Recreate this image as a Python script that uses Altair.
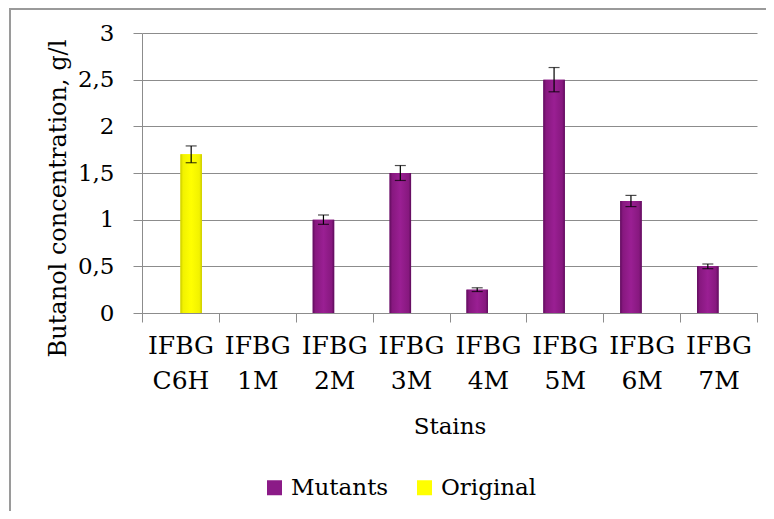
import altair as alt
import pandas as pd

# ---- data ----
categories = ["IFBG C6H", "IFBG 1M", "IFBG 2M", "IFBG 3M", "IFBG 4M", "IFBG 5M", "IFBG 6M", "IFBG 7M"]
series = ["Original", "Mutants", "Mutants", "Mutants", "Mutants", "Mutants", "Mutants", "Mutants"]
values = [1.7, 0.0, 1.0, 1.5, 0.25, 2.5, 1.2, 0.5]
errors = [0.09, 0.0, 0.05, 0.08, 0.02, 0.13, 0.06, 0.025]
y_ticks = [0, 0.5, 1, 1.5, 2, 2.5, 3]
legend_order = ["Mutants", "Original"]
legend_colors = ["#8b1a87", "#ffff00"]

df = pd.DataFrame({"category": categories, "series": series, "value": values, "err": errors})
df["lo"] = df["value"] - df["err"]
df["hi"] = df["value"] + df["err"]

FONT = "DejaVu Serif"
GRID = "#8c8c8c"

purple_grad = {
    "gradient": "linear", "x1": 0, "y1": 0, "x2": 1, "y2": 0,
    "stops": [
        {"offset": 0, "color": "#5e0c5b"},
        {"offset": 0.12, "color": "#87187f"},
        {"offset": 0.5, "color": "#9a1f93"},
        {"offset": 0.88, "color": "#87187f"},
        {"offset": 1, "color": "#5e0c5b"},
    ],
}
yellow_grad = {
    "gradient": "linear", "x1": 0, "y1": 0, "x2": 1, "y2": 0,
    "stops": [
        {"offset": 0, "color": "#c9c900"},
        {"offset": 0.12, "color": "#f2f200"},
        {"offset": 0.5, "color": "#ffff00"},
        {"offset": 0.88, "color": "#f2f200"},
        {"offset": 1, "color": "#c9c900"},
    ],
}

base = alt.Chart(df)

x_enc = alt.X(
    "category:N",
    scale=alt.Scale(domain=categories, paddingInner=0, paddingOuter=0),
    axis=alt.Axis(
        title="Stains",
        labelExpr="split(datum.label, ' ')",
        labelAngle=0,
        labelFont=FONT,
        labelFontSize=25,
        labelLineHeight=35,
        labelPadding=11,
        labelColor="black",
        tickSize=9,
        tickBand="extent",
        tickColor=GRID,
        domainColor=GRID,
        grid=False,
        titleFont=FONT,
        titleFontSize=23,
        titleFontWeight="normal",
        titleColor="black",
        titleBaseline="alphabetic",
        titleY=120,
    ),
)
xoff_enc = alt.XOffset(
    "series:N",
    scale=alt.Scale(domain=legend_order, paddingInner=0, paddingOuter=0.79),
)
y_enc = alt.Y(
    "value:Q",
    scale=alt.Scale(domain=[0, 3]),
    axis=alt.Axis(
        title="Butanol concentration, g/l",
        values=y_ticks,
        labelExpr="replace(toString(datum.value), '.', ',')",
        labelFont=FONT,
        labelFontSize=23,
        labelColor="black",
        labelPadding=19,
        tickSize=9,
        tickColor=GRID,
        domainColor=GRID,
        gridColor=GRID,
        titleFont=FONT,
        titleFontSize=24,
        titleFontWeight="normal",
        titleColor="black",
        titleAngle=270,
        titleAlign="center",
        titleBaseline="alphabetic",
        titleX=-77,
        titleY=165,
    ),
)

bars = base.mark_bar().encode(
    x=x_enc,
    xOffset=xoff_enc,
    y=y_enc,
    color=alt.Color(
        "series:N",
        scale=alt.Scale(domain=legend_order, range=legend_colors),
        legend=alt.Legend(
            orient="none",
            legendX=121,
            legendY=443,
            direction="horizontal",
            title=None,
            symbolType="square",
            symbolSize=225,
            symbolStrokeWidth=0,
            symbolOpacity=1,
            labelFont=FONT,
            labelFontSize=23,
            labelColor="black",
            labelOffset=5,
            columnPadding=24,
        ),
    ),
).transform_filter("datum.value > 0")

bars_grad = base.mark_bar().encode(
    x=x_enc,
    xOffset=xoff_enc,
    y=y_enc,
    fill=alt.condition("datum.series == 'Mutants'", alt.value(purple_grad), alt.value(yellow_grad)),
).transform_filter("datum.value > 0")

err_rule = base.mark_rule(color="black", strokeWidth=1.2).encode(
    x=x_enc, xOffset=xoff_enc, y="lo:Q", y2="hi:Q"
).transform_filter("datum.value > 0")
cap_lo = base.mark_tick(color="black", size=11, thickness=1.2).encode(
    x=x_enc, xOffset=xoff_enc, y="lo:Q"
).transform_filter("datum.value > 0")
cap_hi = base.mark_tick(color="black", size=11, thickness=1.2).encode(
    x=x_enc, xOffset=xoff_enc, y="hi:Q"
).transform_filter("datum.value > 0")

frame = pd.DataFrame({"k": [0]})
border_left = alt.Chart(frame).mark_rule(color="#9a9a9a", strokeWidth=2).encode(
    x=alt.value(-132), y=alt.value(-25), y2=alt.value(478)
)
border_top = alt.Chart(frame).mark_rule(color="#9a9a9a", strokeWidth=2).encode(
    x=alt.value(-132), x2=alt.value(624), y=alt.value(-24)
)

chart = alt.layer(
    border_left, border_top, bars, bars_grad, err_rule, cap_lo, cap_hi
).properties(
    width=615,
    height=280,
    autosize=alt.AutoSizeParams(type="none"),
    padding={"left": 134, "top": 25, "right": 9, "bottom": 198},
    background="white",
).configure(
    font=FONT
).configure_legend(
    labelFont=FONT, labelFontSize=23
).configure_view(stroke=None)

chart.save("out.html", embed_options={"renderer": "svg", "actions": False})
